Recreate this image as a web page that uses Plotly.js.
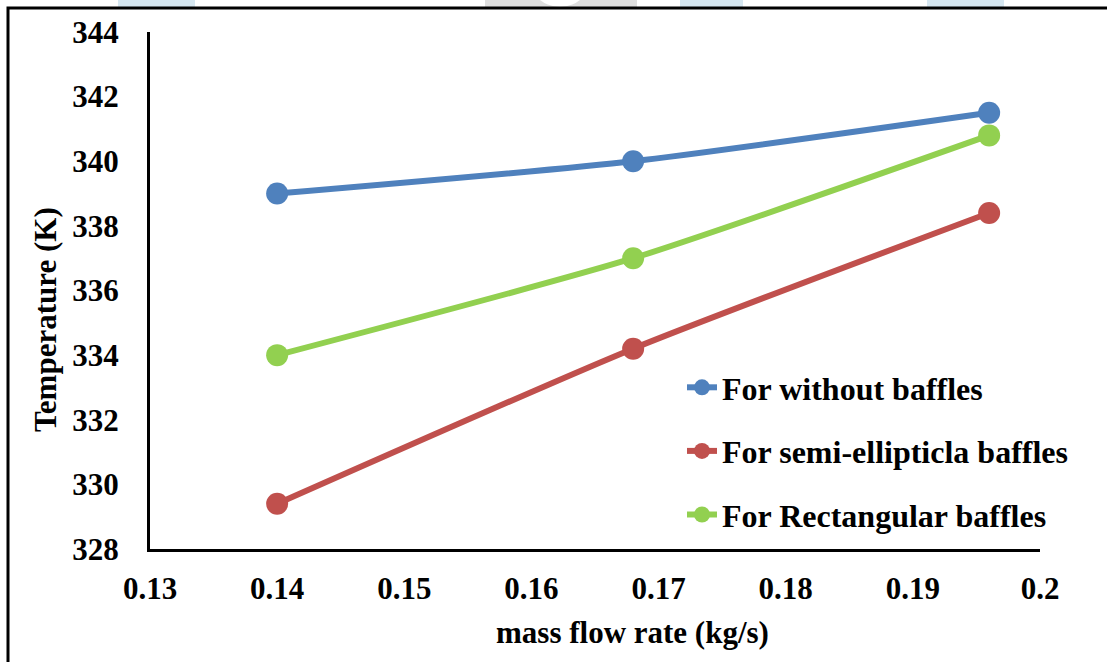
<!DOCTYPE html>
<html>
<head>
<meta charset="utf-8">
<script src="https://cdn.plot.ly/plotly-3.0.1.min.js"></script>
<style>html,body{margin:0;padding:0;background:#fff;}#chart{width:1107px;height:662px;}</style>
</head>
<body>
<div id="chart"></div>
<script>
const massFlow = [0.14, 0.168, 0.196];
const tempWithout = [339.0, 340.0, 341.5];
const tempSemiElliptic = [329.4, 334.2, 338.4];
const tempRectangular = [334.0, 337.0, 340.8];
const seriesNames = ["For without baffles", "For semi-ellipticla baffles", "For Rectangular baffles"];
const seriesColors = ["#4F81BD", "#C0504D", "#92D050"];
const xTicks = [0.13, 0.14, 0.15, 0.16, 0.17, 0.18, 0.19, 0.2];
const xTickText = ["0.13", "0.14", "0.15", "0.16", "0.17", "0.18", "0.19", "0.2"];
const yTicks = [328, 330, 332, 334, 336, 338, 340, 342, 344];
const xTitle = "mass flow rate (kg/s)";
const yTitle = "Temperature (K)";

const FONT = "'Liberation Serif', 'Times New Roman', serif";
const W = 1107, H = 662, L = 150, R = 67, T = 32, B = 113;
const pw = W - L - R, ph = H - T - B;
const px = x => (x - L) / pw;
const py = y => (H - B - y) / ph;

const ys = [tempWithout, tempSemiElliptic, tempRectangular];
const traces = ys.map((y, i) => ({
  x: massFlow, y: y, name: seriesNames[i], type: "scatter", mode: "lines+markers",
  legendgroup: "g" + i,
  line: {color: seriesColors[i], width: 6, shape: "spline", smoothing: 0.6},
  marker: {color: seriesColors[i], size: 22}
}));

const shapes = [
  {type: "rect", xref: "paper", yref: "paper", x0: px(118), x1: px(195), y0: py(0), y1: py(8), fillcolor: "#D6E7F1", line: {width: 0}, layer: "below"},
  {type: "rect", xref: "paper", yref: "paper", x0: px(680), x1: px(743), y0: py(0), y1: py(8), fillcolor: "#D6E7F1", line: {width: 0}, layer: "below"},
  {type: "rect", xref: "paper", yref: "paper", x0: px(927), x1: px(1004), y0: py(0), y1: py(8), fillcolor: "#D6E7F1", line: {width: 0}, layer: "below"},
  {type: "rect", xref: "paper", yref: "paper", x0: px(485), x1: px(637), y0: py(0), y1: py(8), fillcolor: "#DEDEDE", line: {width: 0}, layer: "below"},
  {type: "circle", xref: "paper", yref: "paper", x0: px(528), x1: px(592), y0: py(-57), y1: py(7), fillcolor: "#FFFFFF", line: {width: 0}, layer: "below"},
  {type: "path", xref: "paper", yref: "paper",
   path: `M ${px(8)} ${py(670)} L ${px(8)} ${py(8)} L ${px(1115)} ${py(8)}`,
   line: {color: "#000", width: 3}, layer: "above"}
];

const boldFont = (s) => ({family: FONT, size: s, color: "#000", weight: "bold"});

const annotations = [
  {text: xTitle, xref: "paper", yref: "paper", x: px(632), y: py(632), xanchor: "center", yanchor: "middle",
   showarrow: false, font: boldFont(31)},
  {text: yTitle, xref: "paper", yref: "paper", x: px(45), y: py(320), xanchor: "center", yanchor: "middle",
   textangle: -90, showarrow: false, font: boldFont(31)}
];

const layout = {
  width: W, height: H,
  margin: {l: L, r: R, t: T, b: B},
  paper_bgcolor: "#fff", plot_bgcolor: "rgba(0,0,0,0)",
  font: boldFont(31),
  showlegend: true,
  legend: {
    x: px(682), y: py(360), xanchor: "left", yanchor: "top",
    bgcolor: "rgba(0,0,0,0)", tracegroupgap: 19,
    font: boldFont(32)
  },
  xaxis: {
    range: [0.13, 0.2], tickvals: xTicks, ticktext: xTickText,
    showgrid: false, zeroline: false, showline: true, linecolor: "#000", linewidth: 3,
    ticks: "", ticklabelstandoff: 10,
    tickfont: boldFont(31)
  },
  yaxis: {
    range: [328, 344], tickvals: yTicks,
    showgrid: false, zeroline: false, showline: true, linecolor: "#000", linewidth: 3,
    ticks: "", ticklabelstandoff: 22,
    tickfont: boldFont(31)
  },
  annotations: annotations,
  shapes: shapes
};

Plotly.newPlot("chart", traces, layout, {displayModeBar: false, staticPlot: true});
</script>
</body>
</html>
